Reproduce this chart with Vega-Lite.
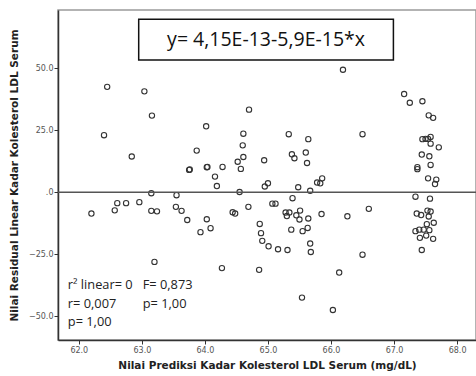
{
  "$schema": "https://vega.github.io/schema/vega-lite/v6.json",
  "width": 418,
  "height": 330,
  "autosize": {"type": "none"},
  "padding": {"left": 58, "top": 10, "right": 0, "bottom": 36},
  "background": "white",
  "config": {
    "view": {"stroke": "#9a9a9a", "strokeWidth": 1.5},
    "axis": {"grid": false, "labelFont": "DejaVu Sans", "labelFontSize": 8, "labelColor": "#555555", "tickColor": "#333333", "domainColor": "#333333", "domainWidth": 1.5, "tickSize": 4, "titleFont": "DejaVu Sans", "titleFontWeight": "bold", "titleFontSize": 10.5, "titleColor": "#222222"}
  },
  "layer": [
    {
      "data": {"values": [
        {"x": 62.45, "y": 42.5}, {"x": 63.04, "y": 40.7}, {"x": 63.16, "y": 30.9}, {"x": 62.40, "y": 23.0},
        {"x": 62.84, "y": 14.4}, {"x": 63.87, "y": 16.8}, {"x": 63.75, "y": 9.0}, {"x": 63.76, "y": 9.2},
        {"x": 64.02, "y": 26.6}, {"x": 64.03, "y": 10.1}, {"x": 64.04, "y": 10.2},
        {"x": 63.15, "y": -0.4}, {"x": 63.55, "y": -1.2}, {"x": 62.61, "y": -4.4}, {"x": 62.75, "y": -4.4},
        {"x": 62.96, "y": -4.0}, {"x": 62.57, "y": -7.3}, {"x": 62.20, "y": -8.6}, {"x": 63.15, "y": -7.5},
        {"x": 63.24, "y": -7.7}, {"x": 63.54, "y": -5.9}, {"x": 63.63, "y": -7.5}, {"x": 63.72, "y": -11.2},
        {"x": 64.03, "y": -10.9}, {"x": 63.93, "y": -16.1}, {"x": 63.20, "y": -28.1},
        {"x": 66.19, "y": 49.4}, {"x": 64.70, "y": 33.3}, {"x": 64.61, "y": 23.6}, {"x": 65.33, "y": 23.4},
        {"x": 65.64, "y": 21.4}, {"x": 64.60, "y": 18.9}, {"x": 65.38, "y": 15.3}, {"x": 65.60, "y": 16.0},
        {"x": 65.42, "y": 13.7}, {"x": 64.61, "y": 14.2}, {"x": 64.52, "y": 12.3}, {"x": 64.94, "y": 12.9},
        {"x": 65.62, "y": 11.8}, {"x": 64.28, "y": 10.2}, {"x": 64.57, "y": 9.4}, {"x": 64.16, "y": 6.3},
        {"x": 64.19, "y": 2.5}, {"x": 64.95, "y": 2.3}, {"x": 65.00, "y": 3.6}, {"x": 65.48, "y": 2.0},
        {"x": 65.78, "y": 3.9}, {"x": 65.83, "y": 3.6}, {"x": 65.86, "y": 5.6}, {"x": 65.67, "y": 0.6},
        {"x": 64.55, "y": 0.1},
        {"x": 65.39, "y": -2.4}, {"x": 64.69, "y": -5.9}, {"x": 65.07, "y": -4.6}, {"x": 65.12, "y": -4.6},
        {"x": 64.44, "y": -8.1}, {"x": 64.48, "y": -8.6}, {"x": 65.28, "y": -8.2}, {"x": 65.30, "y": -9.6},
        {"x": 65.34, "y": -8.2}, {"x": 65.45, "y": -9.3}, {"x": 65.51, "y": -7.4}, {"x": 65.50, "y": -11.0},
        {"x": 65.64, "y": -10.6}, {"x": 65.85, "y": -8.8}, {"x": 66.26, "y": -9.7}, {"x": 64.09, "y": -14.5},
        {"x": 64.87, "y": -12.8}, {"x": 64.89, "y": -16.5}, {"x": 64.91, "y": -19.6}, {"x": 65.01, "y": -21.8},
        {"x": 65.16, "y": -23.0}, {"x": 65.31, "y": -23.3}, {"x": 65.37, "y": -15.1}, {"x": 65.55, "y": -15.7},
        {"x": 65.63, "y": -14.4}, {"x": 65.67, "y": -20.7}, {"x": 65.68, "y": -24.1}, {"x": 64.27, "y": -30.6},
        {"x": 64.86, "y": -31.3}, {"x": 66.13, "y": -32.4}, {"x": 65.54, "y": -42.5}, {"x": 66.03, "y": -47.5},
        {"x": 67.16, "y": 39.6}, {"x": 67.25, "y": 36.1}, {"x": 67.45, "y": 36.7}, {"x": 67.55, "y": 31.0},
        {"x": 67.62, "y": 30.0}, {"x": 66.50, "y": 23.4}, {"x": 67.45, "y": 21.4}, {"x": 67.50, "y": 21.5},
        {"x": 67.54, "y": 21.5}, {"x": 67.58, "y": 22.3}, {"x": 67.58, "y": 19.6}, {"x": 67.71, "y": 18.1},
        {"x": 67.44, "y": 15.2}, {"x": 67.56, "y": 14.5}, {"x": 67.58, "y": 11.0}, {"x": 67.37, "y": 10.1},
        {"x": 67.37, "y": 9.3}, {"x": 67.54, "y": 5.6}, {"x": 67.67, "y": 5.1}, {"x": 67.65, "y": 3.3},
        {"x": 67.34, "y": -1.8}, {"x": 67.57, "y": -2.6}, {"x": 66.60, "y": -6.7}, {"x": 67.36, "y": -8.6},
        {"x": 67.43, "y": -9.2}, {"x": 67.53, "y": -7.4}, {"x": 67.58, "y": -7.8}, {"x": 67.55, "y": -9.8},
        {"x": 67.63, "y": -12.3}, {"x": 67.52, "y": -12.9}, {"x": 67.34, "y": -15.7}, {"x": 67.40, "y": -15.1},
        {"x": 67.47, "y": -15.1}, {"x": 67.56, "y": -15.3}, {"x": 67.41, "y": -18.4}, {"x": 67.51, "y": -17.5},
        {"x": 67.62, "y": -18.8}, {"x": 67.44, "y": -23.3}, {"x": 66.50, "y": -25.2}
      ]},
      "mark": {"type": "point", "shape": "circle", "filled": false, "stroke": "#333333", "strokeWidth": 1.1, "size": 28, "opacity": 1},
      "encoding": {
        "x": {"field": "x", "type": "quantitative", "scale": {"domain": [61.67, 68.3], "nice": false, "zero": false},
              "axis": {"values": [62, 63, 64, 65, 66, 67, 68], "format": ".1f", "labelPadding": 2, "title": "Nilai Prediksi Kadar Kolesterol LDL Serum (mg/dL)", "titlePadding": 6}},
        "y": {"field": "y", "type": "quantitative", "scale": {"domain": [-59.6, 73.5], "nice": false, "zero": false},
              "axis": {"values": [-50, -25, 0, 25, 50], "labelExpr": "datum.value == 0 ? '.0' : format(datum.value, '.1f')", "labelPadding": 1, "title": "Nilai Residual Linear Kadar Kolesterol LDL Serum", "titlePadding": 9}}
      }
    },
    {
      "data": {"values": [{}]},
      "mark": {"type": "rule", "color": "#555555", "strokeWidth": 1.5},
      "encoding": {"y": {"datum": 0}}
    },
    {
      "data": {"values": [{}]},
      "mark": {"type": "rect", "fill": "white", "stroke": "#111111", "strokeWidth": 1.5},
      "encoding": {"x": {"datum": 62.95}, "x2": {"datum": 66.99}, "y": {"datum": 69.8}, "y2": {"datum": 53.3}}
    },
    {
      "data": {"values": [{}]},
      "mark": {"type": "text", "font": "Open Sans", "fontSize": 19.5, "color": "#111111", "align": "center", "baseline": "middle", "text": "y= 4,15E-13-5,9E-15*x"},
      "encoding": {"x": {"datum": 64.97}, "y": {"datum": 61.3}}
    },
    {
      "data": {"values": [{}]},
      "mark": {"type": "text", "font": "Open Sans", "fontSize": 12.8, "color": "#222222", "align": "left", "baseline": "middle", "text": "r² linear= 0"},
      "encoding": {"x": {"datum": 61.826}, "y": {"datum": -37.4}}
    },
    {
      "data": {"values": [{}]},
      "mark": {"type": "text", "font": "Open Sans", "fontSize": 12.8, "color": "#222222", "align": "left", "baseline": "middle", "text": "r= 0,007"},
      "encoding": {"x": {"datum": 61.826}, "y": {"datum": -45.0}}
    },
    {
      "data": {"values": [{}]},
      "mark": {"type": "text", "font": "Open Sans", "fontSize": 12.8, "color": "#222222", "align": "left", "baseline": "middle", "text": "p= 1,00"},
      "encoding": {"x": {"datum": 61.826}, "y": {"datum": -52.3}}
    },
    {
      "data": {"values": [{}]},
      "mark": {"type": "text", "font": "Open Sans", "fontSize": 12.8, "color": "#222222", "align": "left", "baseline": "middle", "text": "F= 0,873"},
      "encoding": {"x": {"datum": 63.014}, "y": {"datum": -37.4}}
    },
    {
      "data": {"values": [{}]},
      "mark": {"type": "text", "font": "Open Sans", "fontSize": 12.8, "color": "#222222", "align": "left", "baseline": "middle", "text": "p= 1,00"},
      "encoding": {"x": {"datum": 63.014}, "y": {"datum": -45.0}}
    }
  ]
}
